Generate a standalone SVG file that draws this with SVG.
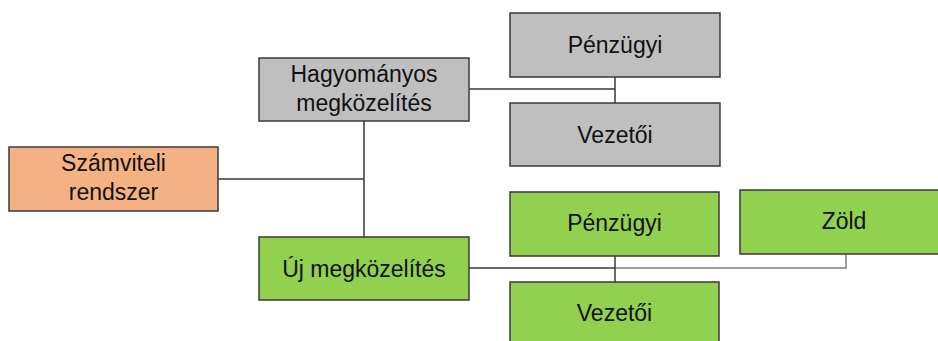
<svg xmlns="http://www.w3.org/2000/svg" width="938" height="341" viewBox="0 0 938 341">
<style>
.box{stroke:#3a3a3a;stroke-width:1.5}
.gray{fill:#bfbfbf}
.green{fill:#92d050}
.orange{fill:#f4b183}
text{font-family:"Liberation Sans",Arial,sans-serif;font-size:23px;fill:#111;text-anchor:middle}
.ln{stroke:#3a3a3a;stroke-width:1.5;fill:none}
.lt{stroke:#7f7f7f;stroke-width:1.5;fill:none}
</style>
<rect width="938" height="341" fill="#fff"/>
<g id="connectors">
<path class="ln" d="M218,179H364M364,121V237"/>
<path class="ln" d="M469,89H615M615,77V103"/>
<path class="lt" d="M615,268H846V254"/>
<path class="ln" d="M469,268H615M615,256V282"/>
</g>
<g id="szamviteli"><rect class="box orange" x="9" y="147" width="209" height="64"/><text x="113.5" y="171">Számviteli</text><text x="113.5" y="200">rendszer</text></g>
<g id="hagyomanyos"><rect class="box gray" x="259" y="58" width="210" height="63"/><text x="364" y="82">Hagyományos</text><text x="364" y="111">megközelítés</text></g>
<g id="penzugyi1"><rect class="box gray" x="510" y="13" width="210" height="64"/><text x="615" y="53">Pénzügyi</text></g>
<g id="vezetoi1"><rect class="box gray" x="510" y="103" width="210" height="63"/><text x="615" y="143">Vezetői</text></g>
<g id="uj"><rect class="box green" x="259" y="237" width="210" height="63"/><text x="364" y="277">Új megközelítés</text></g>
<g id="penzugyi2"><rect class="box green" x="510" y="192" width="209" height="64"/><text x="614.5" y="231">Pénzügyi</text></g>
<g id="zold"><rect class="box green" x="740" y="190" width="208" height="64"/><text x="844" y="229">Zöld</text></g>
<g id="vezetoi2"><rect class="box green" x="510" y="282" width="209" height="70"/><text x="614.5" y="321">Vezetői</text></g>
</svg>
